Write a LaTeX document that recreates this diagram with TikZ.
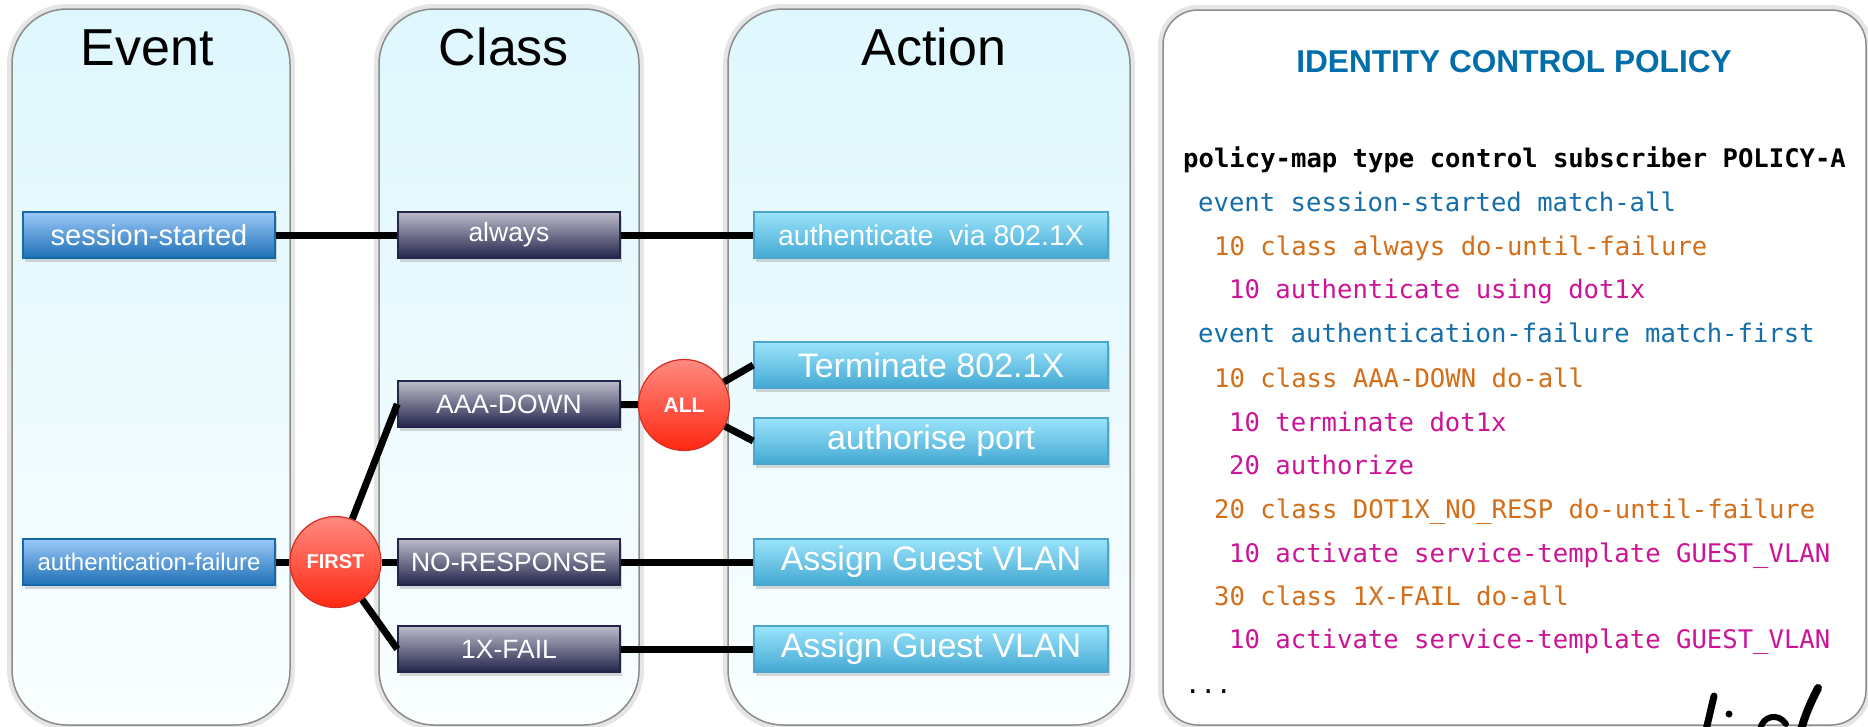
\documentclass[tikz,border=0pt]{standalone}
\usepackage{fontspec}
\setmainfont{Liberation Sans}
\newfontfamily\codefont{DejaVu Sans Mono}
\usetikzlibrary{shadows}
\definecolor{evtedge}{RGB}{20,105,170}
\definecolor{evttop}{RGB}{155,200,248}
\definecolor{evtbot}{RGB}{30,112,182}
\definecolor{clstop}{RGB}{188,188,202}
\definecolor{clsbot}{RGB}{36,36,76}
\definecolor{acttop}{RGB}{155,228,252}
\definecolor{actbot}{RGB}{68,168,210}
\definecolor{actedge}{RGB}{75,165,205}
\definecolor{redtop}{RGB}{255,138,128}
\definecolor{redbot}{RGB}{255,40,18}
\definecolor{rededge}{RGB}{215,45,35}
\definecolor{paneltop}{RGB}{222,247,253}
\definecolor{panelbot}{RGB}{250,254,255}
\definecolor{titleblue}{RGB}{0,110,170}
\definecolor{cfgevent}{RGB}{20,110,170}
\definecolor{cfgclass}{RGB}{212,110,25}
\definecolor{cfgaction}{RGB}{204,20,150}

\begin{document}
\begin{tikzpicture}[x=1pt,y=-1pt,
  glow/.style={draw=black,line width=10pt,draw opacity=.10},
  panel/.style={top color=paneltop,bottom color=panelbot,draw=black!45,line width=1.5pt},
  coltitle/.style={anchor=base,font=\fontsize{52pt}{54pt}\selectfont},
  boxshadow/.style={drop shadow={opacity=.3,shadow xshift=2pt,shadow yshift=-4pt}},
  evbox/.style={boxshadow,draw=evtedge,line width=1.5pt,top color=evttop,bottom color=evtbot,
    minimum width=252pt,minimum height=46pt,inner sep=0pt,text=white},
  clbox/.style={boxshadow,draw=clsbot,line width=1.5pt,top color=clstop,bottom color=clsbot,
    minimum width=222pt,minimum height=46pt,inner sep=0pt,text=white,font=\fontsize{26.5pt}{28pt}\selectfont},
  acbox/.style={boxshadow,draw=actedge,line width=1.5pt,top color=acttop,bottom color=actbot,
    minimum width=354pt,minimum height=46pt,inner sep=0pt,text=white,font=\fontsize{34pt}{36pt}\selectfont},
  selector/.style={circle,draw=rededge,line width=1.2pt,top color=redtop,bottom color=redbot,
    minimum size=91pt,inner sep=0pt,text=white},
  conn/.style={line width=7pt},
  cfg/.style={anchor=base west,inner sep=0pt,font=\codefont\fontsize{25.6pt}{27pt}\selectfont}]
\useasboundingbox (0,0) rectangle (1868,726);
\fill[white] (0,0) rectangle (1868,726);

% columns
\draw[glow,rounded corners=55pt] (12,9) rectangle (290,725);
\draw[glow,rounded corners=55pt] (379,9) rectangle (639,725);
\draw[glow,rounded corners=55pt] (728,9) rectangle (1130,725);
\draw[glow,rounded corners=35pt] (1163,10) rectangle (1866,725);
\draw[panel,rounded corners=55pt] (12,9) rectangle (290,725);
\draw[panel,rounded corners=55pt] (379,9) rectangle (639,725);
\draw[panel,rounded corners=55pt] (728,9) rectangle (1130,725);
\draw[fill=white,draw=black!45,line width=1.5pt,rounded corners=35pt] (1163,10) rectangle (1866,725);

\node[coltitle] (tevent) at (147,65) {Event};
\node[coltitle] (tclass) at (504,65) {Class};
\node[coltitle] (taction) at (934,65) {Action};

% events
\node[evbox,font=\fontsize{29pt}{30pt}\selectfont] (started) at (149,235) {session-started};
\node[evbox,font=\fontsize{24pt}{26pt}\selectfont] (authfail) at (149,562) {authentication-failure};

% classes
\node[clbox] (always) at (509,235) {always};
\node[clbox] (aaadown) at (509,404) {AAA-DOWN};
\node[clbox] (noresp) at (509,562) {NO-RESPONSE};
\node[clbox] (xfail) at (509,649) {1X-FAIL};

% actions
\node[acbox,font=\fontsize{28.5pt}{30pt}\selectfont] (authen) at (931,235) {authenticate\ \ via 802.1X};
\node[acbox] (term) at (931,365) {Terminate 802.1X};
\node[acbox] (authz) at (931,441) {authorise port};
\node[acbox] (guest) at (931,562) {Assign Guest VLAN};
\node[acbox] (guestb) at (931,649) {Assign Guest VLAN};

\node[selector,font=\bfseries\fontsize{21pt}{22pt}\selectfont] (all) at (684,405) {ALL};
\node[selector,font=\bfseries\fontsize{20pt}{22pt}\selectfont] (first) at (335.5,562) {FIRST};

% links
\draw[conn] (started) -- (always);
\draw[conn] (always) -- (authen);
\draw[conn] (authfail) -- (first);
\draw[conn] (first) -- (aaadown.west);
\draw[conn] (first) -- (noresp);
\draw[conn] (first) -- (xfail.west);
\draw[conn] (aaadown) -- (all);
\draw[conn] (all) -- (term.west);
\draw[conn] (all) -- (authz.west);
\draw[conn] (noresp) -- (guest);
\draw[conn] (xfail) -- (guestb);

% config
\node[text=titleblue,font=\bfseries\fontsize{31.6pt}{33pt}\selectfont] (ptitle) at (1514,62) {IDENTITY CONTROL POLICY};
\node[cfg,font=\codefont\bfseries\fontsize{25.6pt}{27pt}\selectfont] (cfg0) at (1183,167) {policy-map type control subscriber POLICY-A};
\node[cfg,text=cfgevent] (cfg1) at (1198,211) {event session-started match-all};
\node[cfg,text=cfgclass] (cfg2) at (1214,255) {10 class always do-until-failure};
\node[cfg,text=cfgaction] (cfg3) at (1229,298) {10 authenticate using dot1x};
\node[cfg,text=cfgevent] (cfg4) at (1198,342) {event authentication-failure match-first};
\node[cfg,text=cfgclass] (cfg5) at (1214,387) {10 class AAA-DOWN do-all};
\node[cfg,text=cfgaction] (cfg6) at (1229,431) {10 terminate dot1x};
\node[cfg,text=cfgaction] (cfg7) at (1229,474) {20 authorize};
\node[cfg,text=cfgclass] (cfg8) at (1214,518) {20 class DOT1X\_NO\_RESP do-until-failure};
\node[cfg,text=cfgaction] (cfg9) at (1229,562) {10 activate service-template GUEST\_VLAN};
\node[cfg,text=cfgclass] (cfg10) at (1214,605) {30 class 1X-FAIL do-all};
\node[cfg,text=cfgaction] (cfg11) at (1229,648) {10 activate service-template GUEST\_VLAN};
\node[cfg] (cfg12) at (1185,693) {...};

% signature, cut off at the edge
\draw[line width=7pt,line cap=round] (1714,696) -- (1706,730);
\fill (1729,714) circle (3.5pt);
\draw[line width=6pt,line cap=round] (1760,730) .. controls (1762,716) and (1778,712) .. (1786,724);
\draw[line width=8pt,line cap=round] (1818,688) .. controls (1812,700) and (1806,712) .. (1801,730);
\end{tikzpicture}
\end{document}
